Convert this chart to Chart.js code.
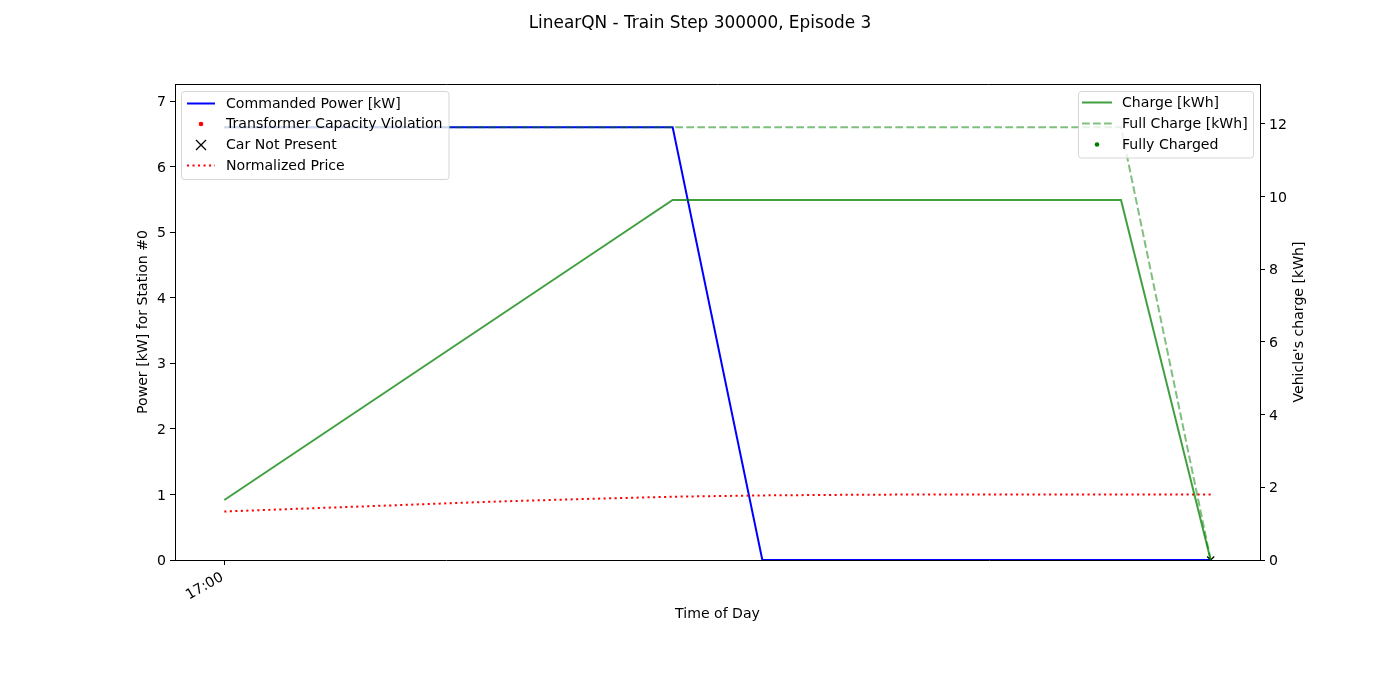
<!DOCTYPE html>
<html>
<head>
<meta charset="utf-8">
<script src="https://cdn.jsdelivr.net/npm/chart.js@4.4.1/dist/chart.umd.min.js"></script>
<style>
  html, body { margin: 0; padding: 0; background: #fff; }
  #wrap { width: 1400px; height: 700px; }
</style>
</head>
<body>
<div id="wrap"><canvas id="c" width="1400" height="700"></canvas></div>
<script>
// ---- data ----
const steps = [0, 1, 2, 3, 4, 5, 6, 7, 8, 9, 10, 11];
const xTickSteps = [0];
const xTickLabels = ['17:00'];
const commandedPower = [6.6, 6.6, 6.6, 6.6, 6.6, 6.6, 0, 0, 0, 0, 0, 0];
const normalizedPrice = [0.74, 0.79, 0.84, 0.89, 0.93, 0.965, 0.985, 0.995, 1.0, 1.0, 1.0, 1.0];
const carNotPresent = [null, null, null, null, null, null, null, null, null, null, null, 0];
const transformerViolation = [null, null, null, null, null, null, null, null, null, null, null, null];
const charge = [1.65, 3.3, 4.95, 6.6, 8.25, 9.9, 9.9, 9.9, 9.9, 9.9, 9.9, 0];
const fullCharge = [11.9, 11.9, 11.9, 11.9, 11.9, 11.9, 11.9, 11.9, 11.9, 11.9, 11.9, 0];
const fullyCharged = [null, null, null, null, null, null, null, null, null, null, null, null];
const leftLegendLabels = ['Commanded Power [kW]', 'Transformer Capacity Violation', 'Car Not Present', 'Normalized Price'];
const rightLegendLabels = ['Charge [kWh]', 'Full Charge [kWh]', 'Fully Charged'];
const titleText = 'LinearQN - Train Step 300000, Episode 3';
const xTitle = 'Time of Day';
const yTitle = 'Power [kW] for Station #0';
const y1Title = "Vehicle's charge [kWh]";

const pts = (arr) => steps.map((s, i) => ({ x: s, y: arr[i] }));

const FONT = 'DejaVu Sans';
const FS = 14.1;
const BLUE = '#0000ff';
const RED = '#ff0000';
const GREEN = 'rgba(0,128,0,0.75)';
const GREEN_L = 'rgba(0,128,0,0.5)';
const DOTTED = [2.1, 3.4];
const DASHED = [7.7, 3.3];

const overlay = {
  id: 'overlay',
  afterDraw(chart) {
    const ctx = chart.ctx;
    const a = chart.chartArea;
    ctx.save();
    // top spine
    ctx.strokeStyle = '#000';
    ctx.lineWidth = 1;
    ctx.beginPath();
    ctx.moveTo(a.left, a.top + 0.5);
    ctx.lineTo(a.right, a.top + 0.5);
    ctx.stroke();

    ctx.fillStyle = '#000';
    ctx.textBaseline = 'middle';
    ctx.textAlign = 'center';
    ctx.font = '16.9px "' + FONT + '"';
    ctx.fillText(titleText, 700, 23.5);
    ctx.font = FS + 'px "' + FONT + '"';
    ctx.fillText(xTitle, (a.left + a.right) / 2, 614);
    ctx.save();
    ctx.translate(143.5, (a.top + a.bottom) / 2);
    ctx.rotate(-Math.PI / 2);
    ctx.fillText(yTitle, 0, 0);
    ctx.restore();
    ctx.save();
    ctx.translate(1299.5, (a.top + a.bottom) / 2);
    ctx.rotate(-Math.PI / 2);
    ctx.fillText(y1Title, 0, 0);
    ctx.restore();

    function box(x, y, w, h) {
      const r = 3;
      ctx.beginPath();
      ctx.moveTo(x + r, y);
      ctx.lineTo(x + w - r, y);
      ctx.arcTo(x + w, y, x + w, y + r, r);
      ctx.lineTo(x + w, y + h - r);
      ctx.arcTo(x + w, y + h, x + w - r, y + h, r);
      ctx.lineTo(x + r, y + h);
      ctx.arcTo(x, y + h, x, y + h - r, r);
      ctx.lineTo(x, y + r);
      ctx.arcTo(x, y, x + r, y, r);
      ctx.closePath();
      ctx.fillStyle = 'rgba(255,255,255,0.8)';
      ctx.fill();
      ctx.strokeStyle = 'rgba(204,204,204,0.8)';
      ctx.lineWidth = 1;
      ctx.stroke();
    }
    function line(x1, x2, y, color, dash) {
      ctx.save();
      ctx.strokeStyle = color;
      ctx.lineWidth = 2;
      ctx.setLineDash(dash || []);
      ctx.beginPath();
      ctx.moveTo(x1, y);
      ctx.lineTo(x2, y);
      ctx.stroke();
      ctx.restore();
    }
    function dot(x, y, color, r) {
      ctx.fillStyle = color;
      ctx.beginPath();
      ctx.arc(x, y, r, 0, Math.PI * 2);
      ctx.fill();
    }
    function cross(x, y) {
      ctx.save();
      ctx.strokeStyle = '#000';
      ctx.lineWidth = 1.3;
      const s = 5;
      ctx.beginPath();
      ctx.moveTo(x - s, y - s); ctx.lineTo(x + s, y + s);
      ctx.moveTo(x - s, y + s); ctx.lineTo(x + s, y - s);
      ctx.stroke();
      ctx.restore();
    }
    // left legend
    box(181.5, 91.5, 267.5, 88);
    const lr = [103.5, 124, 145, 165.5];
    line(187, 215, lr[0], BLUE);
    dot(201, lr[1], RED, 2.3);
    cross(201, lr[2]);
    line(187, 215, lr[3], RED, DOTTED);
    ctx.fillStyle = '#000';
    ctx.textAlign = 'left';
    ctx.textBaseline = 'middle';
    ctx.font = FS + 'px "' + FONT + '"';
    leftLegendLabels.forEach((t, i) => ctx.fillText(t, 226, lr[i] + 0.5));
    // right legend
    box(1078.5, 91.5, 175, 66.5);
    const rr = [102.5, 123.5, 144.5];
    line(1082, 1112, rr[0], GREEN);
    line(1082, 1112, rr[1], GREEN_L, DASHED);
    dot(1097, rr[2], 'rgba(0,128,0,1)', 2.3);
    ctx.fillStyle = '#000';
    rightLegendLabels.forEach((t, i) => ctx.fillText(t, 1122, rr[i] + 0.5));
    ctx.restore();
  }
};

const tickFont = { family: FONT, size: FS };

new Chart(document.getElementById('c'), {
  type: 'line',
  data: {
    datasets: [
      { label: 'Fully Charged', data: pts(fullyCharged), yAxisID: 'y1', showLine: false, pointRadius: 2.3, pointBackgroundColor: 'green', borderColor: 'green', order: 0 },
      { label: 'Full Charge [kWh]', data: pts(fullCharge), yAxisID: 'y1', borderColor: GREEN_L, borderWidth: 2, borderDash: DASHED, pointRadius: 0, order: 1 },
      { label: 'Charge [kWh]', data: pts(charge), yAxisID: 'y1', borderColor: GREEN, borderWidth: 2, pointRadius: 0, order: 2 },
      { label: 'Normalized Price', data: pts(normalizedPrice), yAxisID: 'y', borderColor: RED, borderWidth: 2, borderDash: DOTTED, pointRadius: 0, order: 3 },
      { label: 'Car Not Present', data: pts(carNotPresent), yAxisID: 'y', showLine: false, pointStyle: 'crossRot', pointRadius: 5, borderWidth: 1.3, pointBorderColor: '#000', borderColor: '#000', order: 4 },
      { label: 'Transformer Capacity Violation', data: pts(transformerViolation), yAxisID: 'y', showLine: false, pointRadius: 2.3, pointBackgroundColor: RED, borderColor: RED, order: 5 },
      { label: 'Commanded Power [kW]', data: pts(commandedPower), yAxisID: 'y', borderColor: BLUE, borderWidth: 2, pointRadius: 0, order: 6 }
    ]
  },
  options: {
    responsive: false,
    animation: false,
    devicePixelRatio: 1,
    layout: { padding: { top: 84, left: 0, right: 0, bottom: 0 } },
    plugins: { legend: { display: false }, tooltip: { enabled: false }, title: { display: false } },
    elements: { line: { tension: 0, borderCapStyle: 'butt' } },
    scales: {
      x: {
        type: 'linear',
        min: -0.55, max: 11.55,
        afterBuildTicks: (s) => { s.ticks = xTickSteps.map(v => ({ value: v })); },
        afterFit: (s) => { s.height = 140; },
        ticks: {
          callback: (v) => { const i = xTickSteps.indexOf(v); return i >= 0 ? xTickLabels[i] : ''; },
          minRotation: 30, maxRotation: 30, color: '#000', font: tickFont, padding: 4, labelOffset: -2
        },
        grid: { drawOnChartArea: false, drawTicks: true, tickLength: 5, color: '#000', tickColor: '#000' },
        border: { display: true, color: '#000', width: 1 }
      },
      y: {
        position: 'left',
        min: 0, max: 7.26,
        afterFit: (s) => { s.width = 175; },
        ticks: { stepSize: 1, includeBounds: false, color: '#000', font: tickFont, padding: 4, labelOffset: 1.5 },
        grid: { drawOnChartArea: false, drawTicks: true, tickLength: 5, color: '#000', tickColor: '#000' },
        border: { display: true, color: '#000', width: 1 }
      },
      y1: {
        position: 'right',
        min: 0, max: 13.09,
        afterFit: (s) => { s.width = 140; },
        ticks: { stepSize: 2, includeBounds: false, color: '#000', font: tickFont, padding: 4, labelOffset: 1.5 },
        grid: { drawOnChartArea: false, drawTicks: true, tickLength: 5, color: '#000', tickColor: '#000' },
        border: { display: true, color: '#000', width: 1 }
      }
    }
  },
  plugins: [overlay]
});
</script>
</body>
</html>
